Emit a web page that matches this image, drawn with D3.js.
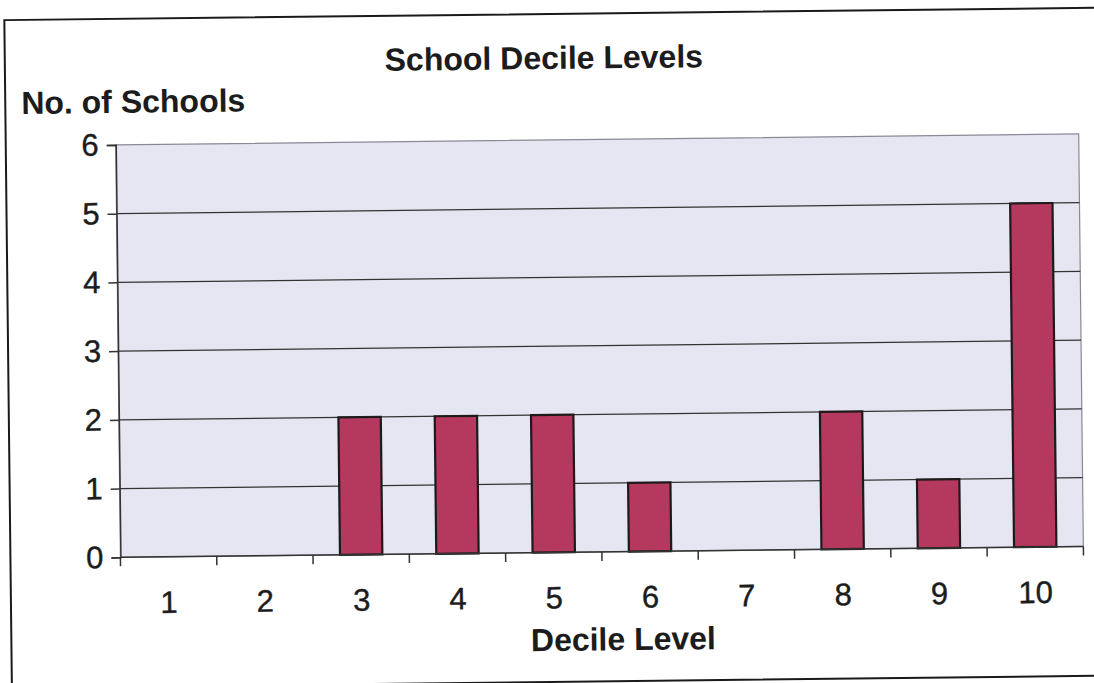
<!DOCTYPE html>
<html>
<head>
<meta charset="utf-8">
<script src="https://cdn.jsdelivr.net/npm/d3@7"></script>
<style>
  html, body { margin: 0; padding: 0; background: #fff; }
  svg { display: block; }
  text { font-family: "Liberation Sans", Arial, sans-serif; fill: #1c1c1c; }
</style>
</head>
<body>
<svg id="chart" width="1094" height="683"></svg>
<script>
const categories = ["1", "2", "3", "4", "5", "6", "7", "8", "9", "10"];
const values = [0, 0, 2, 2, 2, 1, 0, 2, 1, 5];
const yTicks = [0, 1, 2, 3, 4, 5, 6];
const title = "School Decile Levels";
const yTitle = "No. of Schools";
const xTitle = "Decile Level";

const svg = d3.select("#chart");
const g = svg.append("g").attr("transform", "rotate(-0.65 547 341)");

// outer frame
g.append("rect").attr("x", 8).attr("y", 14).attr("width", 1092).attr("height", 668)
  .attr("fill", "none").attr("stroke", "#1a1a1a").attr("stroke-width", 2);

const plot = { left: 118, right: 1081, top: 140, bottom: 552.5 };

const x = d3.scaleBand().domain(categories).range([plot.left, plot.right]).padding(0);
const y = d3.scaleLinear().domain([0, 6]).range([plot.bottom, plot.top]);

// plot background
g.append("rect").attr("x", plot.left).attr("y", plot.top)
  .attr("width", plot.right - plot.left).attr("height", plot.bottom - plot.top)
  .attr("fill", "#e6e6f2").attr("stroke", "#8a8a96").attr("stroke-width", 1.2);

// gridlines
g.append("g").selectAll("line").data(yTicks.filter(d => d > 0 && d < 6)).join("line")
  .attr("x1", plot.left).attr("x2", plot.right)
  .attr("y1", d => y(d)).attr("y2", d => y(d))
  .attr("stroke", "#333").attr("stroke-width", 1.3);

// bars
const bw = x.bandwidth() * 0.44;
g.append("g").selectAll("rect").data(values.map((v, i) => ({ c: categories[i], v })).filter(d => d.v > 0))
  .join("rect")
  .attr("x", d => x(d.c) + (x.bandwidth() - bw) / 2)
  .attr("y", d => y(d.v))
  .attr("width", bw)
  .attr("height", d => y(0) - y(d.v))
  .attr("fill", "#b5385f")
  .attr("stroke", "#1e1a1c").attr("stroke-width", 2.2);

// y axis
const yAxis = d3.axisLeft(y).tickValues(yTicks).tickSize(9).tickPadding(8).tickFormat(d3.format("d"));
const ya = g.append("g").attr("transform", `translate(${plot.left},0)`).call(yAxis);
ya.attr("font-size", null).attr("font-family", null);
ya.select(".domain").attr("stroke", "#333").attr("stroke-width", 1.5);
ya.selectAll(".tick line").attr("stroke", "#333").attr("stroke-width", 1.5);
ya.selectAll(".tick text").attr("font-size", 31).attr("fill", "#1c1c1c")
  .attr("stroke", "#1c1c1c").attr("stroke-width", 0.4);

// x axis: labels centered, ticks at boundaries
const xa = g.append("g").attr("transform", `translate(0,${plot.bottom})`);
xa.append("line").attr("x1", plot.left).attr("x2", plot.right).attr("y1", 0).attr("y2", 0)
  .attr("stroke", "#333").attr("stroke-width", 1.5);
const bounds = categories.map(c => x(c)).concat([plot.right]);
xa.selectAll("line.tk").data(bounds).join("line").attr("class", "tk")
  .attr("x1", d => d).attr("x2", d => d).attr("y1", 0).attr("y2", 9)
  .attr("stroke", "#333").attr("stroke-width", 1.5);
xa.selectAll("text").data(categories).join("text")
  .attr("x", d => x(d) + x.bandwidth() / 2)
  .attr("y", 56)
  .attr("text-anchor", "middle")
  .attr("font-size", 31)
  .attr("stroke", "#1c1c1c").attr("stroke-width", 0.4)
  .text(d => d);

// titles
g.append("text").attr("x", 547).attr("y", 69).attr("text-anchor", "middle")
  .attr("font-size", 32).attr("font-weight", "bold").text(title);
g.append("text").attr("x", 24).attr("y", 108)
  .attr("font-size", 32).attr("font-weight", "bold").text(yTitle);
g.append("text").attr("x", 620).attr("y", 651).attr("text-anchor", "middle")
  .attr("font-size", 32).attr("font-weight", "bold").text(xTitle);
</script>
</body>
</html>
